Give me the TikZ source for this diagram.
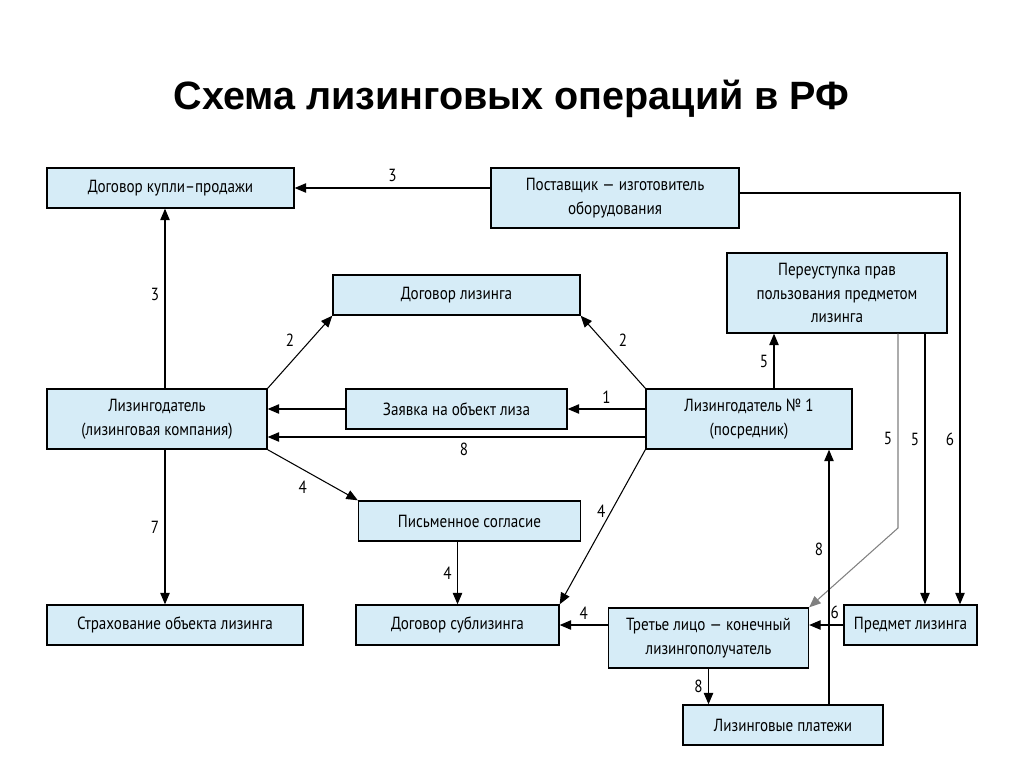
\documentclass[tikz,border=0pt]{standalone}
\usepackage{fontspec}
\setmainfont[FakeStretch=0.86]{PT Sans}
\newfontfamily\titlefont{Liberation Sans}
\usepackage{xcolor}
\usetikzlibrary{arrows.meta, positioning}
\definecolor{boxblue}{RGB}{214,236,247}

\begin{document}
\begin{tikzpicture}[x=0.02cm, y=-0.02cm, >={Triangle[length=2.3mm,width=1.9mm]}, font=\fontsize{10}{13.5}\selectfont]

		% Define block styles
		\tikzstyle{box} = [rectangle, draw, line width=0.8pt, fill=boxblue, inner sep=0pt, minimum height=0.8cm, text centered, align=center]
		\tikzstyle{line} = [->, line width=0.6pt]
		\tikzstyle{num} = [inner sep=3pt]

		\useasboundingbox (0,0) rectangle (1024,767);

		% Title
		\node[font=\titlefont\bfseries\fontsize{22.5}{26}\selectfont] (title) at (511.5,99) {Схема лизинговых операций в РФ};

		% Nodes
		\node[box, minimum width=4.94cm] (kupli) at (170.5,188) {Договор купли–продажи};
		\node[box, minimum width=4.96cm, minimum height=1.2cm] (postav) at (615,198) {Поставщик — изготовитель\\оборудования};
		\node[box, minimum width=4.94cm] (dogliz) at (456.5,295) {Договор лизинга};
		\node[box, minimum width=4.4cm, minimum height=1.6cm] (pereust) at (837,293) {Переуступка прав\\пользования предметом\\лизинга};
		\node[box, minimum width=4.4cm, minimum height=1.2cm] (lizdat) at (157,419) {Лизингодатель\\(лизинговая компания)};
		\node[box, minimum width=4.42cm] (zayavka) at (456.5,409) {Заявка на объект лиза};
		\node[box, minimum width=4.12cm, minimum height=1.2cm] (liz1) at (749,419) {Лизингодатель № 1\\(посредник)};
		\node[box, minimum width=4.44cm] (pismo) at (469.5,521) {Письменное согласие};
		\node[box, minimum width=5.12cm] (strah) at (175,625) {Страхование объекта лизинга};
		\node[box, minimum width=4.06cm] (sublis) at (457.5,625) {Договор сублизинга};
		\node[box, minimum width=4cm, minimum height=1.2cm] (tretye) at (708.5,638) {Третье лицо — конечный\\лизингополучатель};
		\node[box, minimum width=2.66cm] (predmet) at (910.5,625) {Предмет лизинга};
		\node[box, minimum width=4cm] (platezhi) at (783,725) {Лизинговые платежи};

		\coordinate (bend) at (898,528);

		% Arrows
		\draw[line] (postav.west |- kupli.east) -- node[num, above] {3} (kupli.east);
		\draw[line] ([yshift=0.1cm]postav.east) -| node[num, left, pos=0.8] {6} ([xshift=0.99cm]predmet.north);
		\draw[line] ([xshift=0.16cm]lizdat.north) -- node[num, left, pos=0.52] {3} ([xshift=0.16cm]lizdat.north |- kupli.south);
		\draw[line] (lizdat.north east) -- node[num, above left, pos=0.5] {2} (dogliz.south west);
		\draw[line] (liz1.north west) -- node[num, above right, pos=0.5] {2} (dogliz.south east);
		\draw[line] (liz1.west |- zayavka.east) -- node[num, above] {1} (zayavka.east);
		\draw[line] (zayavka.west) -- (zayavka.west -| lizdat.east);
		\draw[line] ([yshift=-0.36cm]liz1.west) -- node[num, below, pos=0.48] {8} ([yshift=-0.36cm]lizdat.east);
		\draw[line] (lizdat.south east) -- node[num, below left] {4} (pismo.north west);
		\draw[line] ([xshift=0.16cm]lizdat.south) -- node[num, left] {7} ([xshift=0.16cm]lizdat.south |- strah.north);
		\draw[line] (sublis.north |- pismo.south) -- node[num, left] {4} (sublis.north);
		\draw[line] (liz1.south west) -- node[num, left, pos=0.4] {4} (sublis.north east);
		\draw[line] (tretye.west |- sublis.east) -- node[num, above] {4} (sublis.east);
		\draw[line] ([xshift=0.5cm]liz1.north) -- node[num, left] {5} ([xshift=0.5cm]liz1.north |- pereust.south);
		\draw[line, gray, line width=0.6pt] ([xshift=1.22cm]pereust.south) -- node[num, left, black, pos=0.54] {5} (bend) -- (tretye.north east);
		\draw[line] ([xshift=1.76cm]pereust.south) -- node[num, left, pos=0.39] {5} ([xshift=1.76cm]pereust.south |- predmet.north);
		\draw[line] (predmet.west) -- node[num, above, pos=0.25] {6} (predmet.west -| tretye.east);
		\draw[line] (tretye.south) -- node[num, left] {8} (tretye.south |- platezhi.north);
		\draw[line] ([xshift=0.92cm]platezhi.north) -- node[num, left, pos=0.61] {8} ([xshift=0.92cm]platezhi.north |- liz1.south);

\end{tikzpicture}
\end{document}
